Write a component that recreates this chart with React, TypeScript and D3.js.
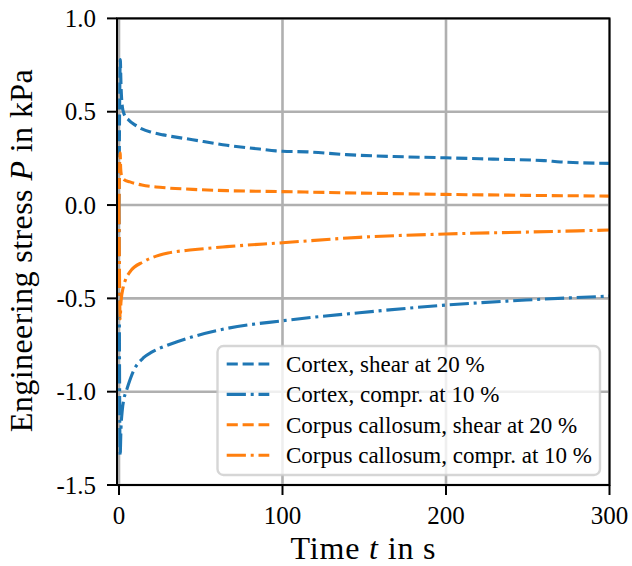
import React from "react";
import * as d3 from "d3";

const W = 632;
const H = 566;

// Time samples (s) and stress values (kPa)
const tCortexShear = [0, 0.8, 1.2, 2, 3, 6, 10, 14, 20, 27, 45, 66, 86, 96, 100, 115, 139, 168, 200, 229, 260, 270, 300];
const pCortexShear = [0, 0.78, 0.65, 0.53, 0.49, 0.455, 0.428, 0.408, 0.39, 0.376, 0.35, 0.32, 0.3, 0.29, 0.288, 0.285, 0.27, 0.26, 0.253, 0.246, 0.238, 0.231, 0.223];

const tCortexCompr = [0, 0.7, 1.2, 2, 3, 4.7, 8.8, 15, 20, 25, 30, 45, 66, 100, 147, 200, 249, 300];
const pCortexCompr = [0, -1.345, -1.2, -1.1, -1.04, -0.99, -0.89, -0.818, -0.788, -0.767, -0.75, -0.706, -0.661, -0.62, -0.577, -0.536, -0.509, -0.488];

const tCCShear = [0, 0.7, 1, 1.5, 3, 6.7, 14, 25, 45, 66, 100, 147, 200, 249, 300];
const pCCShear = [0, 0.28, 0.2, 0.16, 0.137, 0.124, 0.107, 0.095, 0.084, 0.077, 0.072, 0.064, 0.057, 0.052, 0.048];

const tCCCompr = [0, 0.7, 1.2, 2.6, 4, 6.7, 14.9, 25, 30, 45, 66, 100, 147, 200, 249, 300];
const pCCCompr = [0, -0.61, -0.52, -0.44, -0.4, -0.358, -0.304, -0.268, -0.257, -0.24, -0.223, -0.202, -0.173, -0.155, -0.145, -0.134];

const seriesNames = [
  "Cortex, shear at 20 %",
  "Cortex, compr. at 10 %",
  "Corpus callosum, shear at 20 %",
  "Corpus callosum, compr. at 10 %",
];
const seriesColors = ["#1f77b4", "#1f77b4", "#ff7f0e", "#ff7f0e"];
const seriesDash = ["11.1,4.8", "19.2,4.8,3,4.8", "11.1,4.8", "19.2,4.8,3,4.8"];
const seriesT = [tCortexShear, tCortexCompr, tCCShear, tCCCompr];
const seriesP = [pCortexShear, pCortexCompr, pCCShear, pCCCompr];

const xTicks = [0, 100, 200, 300];
const yTicks = [1.0, 0.5, 0.0, -0.5, -1.0, -1.5];

const FONT = "'Liberation Serif', 'DejaVu Serif', 'Times New Roman', serif";

export default function App() {
  const left = 117;
  const right = 609.5;
  const top = 18.4;
  const bottom = 485;

  const x = d3.scaleLinear().domain([-1.22, 300]).range([left, right]);
  const y = d3.scaleLinear().domain([-1.5, 1.0]).range([bottom, top]);

  const line = d3
    .line<[number, number]>()
    .x((d) => x(d[0]))
    .y((d) => y(d[1]))
    .curve(d3.curveMonotoneX);

  const legX = 217.5;
  const legY = 346;
  const legW = 382.5;
  const legH = 129;
  const rowY = (i: number) => 364 + i * 30.4;
  const tstyle = { fontFamily: FONT } as React.CSSProperties;

  return (
    <svg
      width={W}
      height={H}
      style={{ position: "absolute", left: 0, top: 0, background: "#fff", fontFamily: FONT }}
    >
      <defs>
        <clipPath id="plot">
          <rect x={left} y={top} width={right - left} height={bottom - top} />
        </clipPath>
      </defs>
      <rect x={0} y={0} width={W} height={H} fill="#fff" />

      {/* grid */}
      <g stroke="#b0b0b0" strokeWidth={2.6}>
        {xTicks.map((t) => (
          <line key={"gx" + t} x1={x(t)} x2={x(t)} y1={top} y2={bottom} />
        ))}
        {yTicks.map((t) => (
          <line key={"gy" + t} x1={left} x2={right} y1={y(t)} y2={y(t)} />
        ))}
      </g>

      {/* series */}
      <g clipPath="url(#plot)" fill="none" strokeWidth={3.1}>
        {seriesNames.map((name, i) => {
          const pts: [number, number][] = seriesT[i].map((t, j) => [t, seriesP[i][j]]);
          return (
            <path
              key={name}
              d={line(pts) || ""}
              stroke={seriesColors[i]}
              strokeDasharray={seriesDash[i]}
              strokeLinejoin="round"
            />
          );
        })}
      </g>

      {/* spines */}
      <rect
        x={left}
        y={top}
        width={right - left}
        height={bottom - top}
        fill="none"
        stroke="#000"
        strokeWidth={2}
      />

      {/* ticks */}
      <g stroke="#000" strokeWidth={2}>
        {xTicks.map((t) => (
          <line key={"tx" + t} x1={x(t)} x2={x(t)} y1={bottom} y2={bottom + 10} />
        ))}
        {yTicks.map((t) => (
          <line key={"ty" + t} x1={left - 10} x2={left} y1={y(t)} y2={y(t)} />
        ))}
      </g>
      <g fontSize={25} fill="#000">
        {xTicks.map((t) => (
          <text key={"lx" + t} x={x(t)} y={524} textAnchor="middle" style={tstyle}>
            {String(t)}
          </text>
        ))}
        {yTicks.map((t) => (
          <text key={"ly" + t} x={96} y={y(t) + 8.5} textAnchor="end" style={tstyle}>
            {t.toFixed(1)}
          </text>
        ))}
      </g>

      {/* axis labels */}
      <text
        x={363}
        y={559}
        fontSize={32}
        textAnchor="middle"
        textLength={145}
        lengthAdjust="spacing"
        style={tstyle}
      >
        Time <tspan fontStyle="italic">t</tspan> in s
      </text>
      <text
        transform={`translate(32, ${(top + bottom) / 2 - 1}) rotate(-90)`}
        fontSize={32}
        textAnchor="middle"
        textLength={363}
        lengthAdjust="spacing"
        style={tstyle}
      >
        Engineering stress <tspan fontStyle="italic">P</tspan> in kPa
      </text>

      {/* legend */}
      <rect
        x={legX}
        y={legY}
        width={legW}
        height={legH}
        rx={6}
        ry={6}
        fill="#fff"
        fillOpacity={0.8}
        stroke="#cccccc"
        strokeOpacity={0.8}
        strokeWidth={2.4}
      />
      {seriesNames.map((name, i) => (
        <g key={"leg" + name}>
          <line
            x1={226.7}
            x2={269.3}
            y1={rowY(i)}
            y2={rowY(i)}
            stroke={seriesColors[i]}
            strokeWidth={3.1}
            strokeDasharray={seriesDash[i]}
          />
          <text x={286} y={rowY(i) + 7.7} fontSize={23} fill="#000" style={tstyle}>
            {name}
          </text>
        </g>
      ))}
    </svg>
  );
}
